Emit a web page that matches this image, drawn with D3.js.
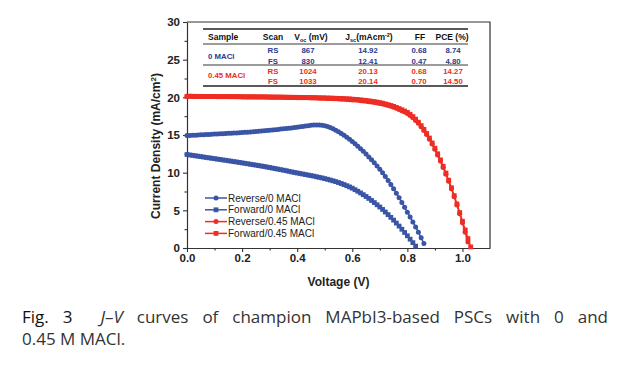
<!DOCTYPE html>
<html>
<head>
<meta charset="utf-8">
<script src="https://cdn.jsdelivr.net/npm/d3@7"></script>
<style>
  body { margin: 0; background: #fff; width: 633px; height: 377px; overflow: hidden; position: relative; }
  .cap { position: absolute; left: 22px; width: 586px; font-family: "Open Sans", Lato, sans-serif; font-size: 17px; color: #333; white-space: nowrap; line-height: 20px; }
  .cap1 { top: 307px; text-align: justify; text-align-last: justify; white-space: normal; }
  .cap2 { top: 329px; }
  .fig { color: #111; }
</style>
</head>
<body>
<div id="chart"></div>
<div class="cap cap1"><span class="fig">Fig. 3</span>&nbsp; <i>J</i>–<i>V</i> curves of champion MAPbI3-based PSCs with 0 and</div>
<div class="cap cap2">0.45 M MACl.</div>
<script>
// voltage sweep step (V) — each J array below is sampled every 10 mV from 0 V
const vStep = 0.01;

// Reverse scan, 0 MACl (mA/cm2)
const jRev0 = [
  14.92, 14.94, 14.96, 14.98, 15.00, 15.02, 15.04, 15.06, 15.08, 15.10,
  15.12, 15.14, 15.16, 15.18, 15.20, 15.22, 15.24, 15.26, 15.28, 15.30,
  15.32, 15.35, 15.38, 15.41, 15.44, 15.47, 15.50, 15.53, 15.56, 15.59,
  15.62, 15.66, 15.70, 15.74, 15.78, 15.82, 15.86, 15.90, 15.94, 15.98,
  16.03, 16.08, 16.13, 16.18, 16.23, 16.28, 16.32, 16.34, 16.33, 16.29,
  16.22, 16.12, 15.99, 15.83, 15.64, 15.43, 15.20, 14.96, 14.70, 14.43,
  14.15, 13.84, 13.52, 13.18, 12.83, 12.47, 12.09, 11.70, 11.30, 10.89,
  10.46, 9.98, 9.48, 8.96, 8.42, 7.86, 7.28, 6.68, 6.05, 5.40,
  4.75, 4.10, 3.45, 2.80, 2.10, 1.35, 0.60
];

// Forward scan, 0 MACl
const jFwd0 = [
  12.41, 12.35, 12.30, 12.24, 12.19, 12.13, 12.08, 12.02, 11.97, 11.91,
  11.86, 11.80, 11.75, 11.69, 11.64, 11.58, 11.53, 11.47, 11.42, 11.36,
  11.30, 11.24, 11.18, 11.12, 11.06, 11.00, 10.94, 10.88, 10.82, 10.75,
  10.68, 10.61, 10.54, 10.47, 10.40, 10.33, 10.26, 10.18, 10.10, 10.03,
  9.96, 9.89, 9.82, 9.75, 9.68, 9.61, 9.54, 9.46, 9.38, 9.30,
  9.21, 9.12, 9.02, 8.92, 8.81, 8.69, 8.56, 8.42, 8.27, 8.11,
  7.94, 7.74, 7.53, 7.31, 7.08, 6.84, 6.58, 6.31, 6.03, 5.74,
  5.44, 5.12, 4.78, 4.43, 4.07, 3.70, 3.31, 2.91, 2.49, 2.06,
  1.62, 1.17, 0.71, 0.25
];

// Reverse scan, 0.45 M MACl
const jRev45 = [
  20.13, 20.13, 20.12, 20.12, 20.12, 20.11, 20.11, 20.11, 20.10, 20.10,
  20.10, 20.09, 20.09, 20.09, 20.08, 20.08, 20.08, 20.07, 20.07, 20.07,
  20.06, 20.06, 20.06, 20.05, 20.05, 20.05, 20.04, 20.04, 20.03, 20.03,
  20.02, 20.02, 20.01, 20.01, 20.00, 20.00, 19.99, 19.98, 19.98, 19.97,
  19.96, 19.96, 19.95, 19.94, 19.93, 19.92, 19.91, 19.90, 19.89, 19.88,
  19.87, 19.85, 19.84, 19.82, 19.80, 19.78, 19.76, 19.74, 19.72, 19.69,
  19.66, 19.63, 19.60, 19.56, 19.52, 19.47, 19.42, 19.37, 19.31, 19.25,
  19.18, 19.10, 19.01, 18.91, 18.80, 18.68, 18.54, 18.39, 18.22, 18.04,
  17.84, 17.58, 17.28, 16.94, 16.55, 16.10, 15.60, 15.05, 14.45, 13.80,
  13.10, 12.35, 11.55, 10.70, 9.80, 8.85, 7.85, 6.80, 5.70, 4.55,
  3.35, 2.10, 0.80
];

// Forward scan, 0.45 M MACl
const jFwd45 = [
  20.14, 20.14, 20.14, 20.13, 20.13, 20.13, 20.12, 20.12, 20.12, 20.12,
  20.11, 20.11, 20.11, 20.10, 20.10, 20.10, 20.09, 20.09, 20.09, 20.08,
  20.08, 20.08, 20.07, 20.07, 20.07, 20.06, 20.06, 20.06, 20.05, 20.05,
  20.05, 20.04, 20.04, 20.03, 20.03, 20.02, 20.02, 20.01, 20.01, 20.00,
  20.00, 19.99, 19.99, 19.98, 19.97, 19.97, 19.96, 19.95, 19.94, 19.93,
  19.92, 19.91, 19.90, 19.89, 19.87, 19.86, 19.85, 19.83, 19.81, 19.79,
  19.76, 19.73, 19.70, 19.66, 19.62, 19.58, 19.53, 19.48, 19.43, 19.37,
  19.30, 19.22, 19.13, 19.03, 18.92, 18.80, 18.66, 18.51, 18.35, 18.18,
  18.00, 17.75, 17.45, 17.10, 16.70, 16.25, 15.75, 15.20, 14.60, 13.95,
  13.25, 12.50, 11.70, 10.85, 9.95, 9.00, 8.00, 6.95, 5.85, 4.70,
  3.55, 2.40, 1.25, 0.15
];

const seriesNames = ["Reverse/0 MACl", "Forward/0 MACl", "Reverse/0.45 MACl", "Forward/0.45 MACl"];
const seriesData = [jRev0, jFwd0, jRev45, jFwd45];
const seriesColors = ["#3a55a6", "#3a55a6", "#ee2d24", "#ee2d24"];
const seriesShapes = ["circle", "square", "circle", "square"];

const xTicks = [0, 0.2, 0.4, 0.6, 0.8, 1.0];
const yTicks = [0, 5, 10, 15, 20, 25, 30];

// inset table
const tableHeader = ["Sample", "Scan", "Voc (mV)", "Jsc(mAcm-2)", "FF", "PCE (%)"];
const tableSamples = ["0 MACl", "0.45 MACl"];
const tableScans = ["RS", "FS", "RS", "FS"];
const tableVoc = ["867", "830", "1024", "1033"];
const tableJsc = ["14.92", "12.41", "20.13", "20.14"];
const tableFF = ["0.68", "0.47", "0.68", "0.70"];
const tablePCE = ["8.74", "4.80", "14.27", "14.50"];
const tableColors = ["#2b3990", "#ee2d24"];

const W = 633, H = 377;
const margin = { top: 22, right: 143, bottom: 129, left: 187 },
    width = W - margin.left - margin.right,
    height = H - margin.top - margin.bottom;
const font = "'Liberation Sans', Arial, sans-serif";
const axisColor = "#333";

const svgRoot = d3.select("#chart").append("svg")
    .attr("width", W).attr("height", H)
    .style("position", "absolute").style("left", 0).style("top", 0);

const svg = svgRoot.append("g")
    .attr("transform", `translate(${margin.left},${margin.top})`);

const x = d3.scaleLinear().domain([0, 1.1]).range([0, width]);
const y = d3.scaleLinear().domain([0, 30]).range([height, 0]);

// frame (top + right)
svg.append("path")
    .attr("d", `M0,0H${width}V${height}`)
    .attr("fill", "none").attr("stroke", axisColor).attr("stroke-width", 1.2);

// minor ticks
svg.append("g")
    .attr("transform", `translate(0,${height})`)
    .call(d3.axisBottom(x).tickValues([0.1, 0.3, 0.5, 0.7, 0.9]).tickSize(2.5).tickFormat(""))
    .call(g => g.select(".domain").remove())
    .selectAll("line").attr("stroke", axisColor).attr("stroke-width", 1.1);

svg.append("g")
    .call(d3.axisLeft(y).tickValues([2.5, 7.5, 12.5, 17.5, 22.5, 27.5]).tickSize(2.5).tickFormat(""))
    .call(g => g.select(".domain").remove())
    .selectAll("line").attr("stroke", axisColor).attr("stroke-width", 1.1);

// X axis
const gx = svg.append("g")
    .attr("transform", `translate(0,${height})`)
    .call(d3.axisBottom(x).tickValues(xTicks).tickFormat(d3.format(".1f")).tickSize(4).tickSizeOuter(0).tickPadding(2));
gx.select(".domain").attr("stroke", axisColor).attr("stroke-width", 1.2);
gx.selectAll("line").attr("stroke", axisColor).attr("stroke-width", 1.1);
gx.selectAll("text")
    .style("font-family", font).style("font-weight", "bold").style("font-size", "11.5px").attr("fill", "#222");

svg.append("text")
    .attr("x", x(0.55)).attr("y", height + 38)
    .attr("text-anchor", "middle")
    .style("font-family", font).style("font-weight", "bold").style("font-size", "12px")
    .attr("fill", "#222")
    .text("Voltage (V)");

// Y axis
const gy = svg.append("g")
    .call(d3.axisLeft(y).tickValues(yTicks).tickSize(4).tickSizeOuter(0).tickPadding(3));
gy.select(".domain").attr("stroke", axisColor).attr("stroke-width", 1.2);
gy.selectAll("line").attr("stroke", axisColor).attr("stroke-width", 1.1);
gy.selectAll("text")
    .style("font-family", font).style("font-weight", "bold").style("font-size", "11.5px").attr("fill", "#222");

const ylab = svg.append("text")
    .attr("transform", "rotate(-90)")
    .attr("x", -124).attr("y", -27)
    .attr("text-anchor", "middle")
    .style("font-family", font).style("font-weight", "bold").style("font-size", "12px")
    .attr("fill", "#222");
ylab.append("tspan").text("Current Density (mA/cm");
ylab.append("tspan").attr("dy", -4).style("font-size", "8px").text("2");
ylab.append("tspan").attr("dy", 4).text(")");

// curves
const lineGen = d3.line().x(d => x(d.v)).y(d => y(d.j));

seriesData.forEach((arr, k) => {
    const pts = arr.map((j, i) => ({ v: i * vStep, j }));
    const g = svg.append("g");
    g.append("path")
        .datum(pts)
        .attr("fill", "none")
        .attr("stroke", seriesColors[k])
        .attr("stroke-width", 1.5)
        .attr("d", lineGen);
    if (seriesShapes[k] === "circle") {
        g.selectAll("circle").data(pts).join("circle")
            .attr("cx", d => x(d.v)).attr("cy", d => y(d.j))
            .attr("r", 2.5).attr("fill", seriesColors[k]);
    } else {
        g.selectAll("rect").data(pts).join("rect")
            .attr("x", d => x(d.v) - 2.4).attr("y", d => y(d.j) - 2.4)
            .attr("width", 4.8).attr("height", 4.8).attr("fill", seriesColors[k]);
    }
});

// legend
const legend = svg.append("g").attr("transform", "translate(18,176)");
seriesNames.forEach((name, k) => {
    const g = legend.append("g").attr("transform", `translate(0,${k * 11.8})`);
    g.append("line").attr("x1", 0).attr("x2", 22).attr("y1", 0).attr("y2", 0)
        .attr("stroke", seriesColors[k]).attr("stroke-width", 1.5);
    if (seriesShapes[k] === "circle") {
        g.append("circle").attr("cx", 11).attr("cy", 0).attr("r", 2.5).attr("fill", seriesColors[k]);
    } else {
        g.append("rect").attr("x", 8.6).attr("y", -2.4).attr("width", 4.8).attr("height", 4.8).attr("fill", seriesColors[k]);
    }
    g.append("text").attr("x", 23).attr("y", 3.6)
        .style("font-family", font).style("font-size", "10px").attr("fill", "#222")
        .text(name);
});

// inset table
const tbl = svg.append("g").attr("transform", `translate(${-margin.left},${-margin.top})`);
const tx0 = 203, tx1 = 468;
[[29, 1.6], [44, 0.9], [65, 0.9], [86, 1.6]].forEach(([yy, sw]) => {
    tbl.append("line").attr("x1", tx0).attr("x2", tx1).attr("y1", yy).attr("y2", yy)
        .attr("stroke", "#222").attr("stroke-width", sw);
});
const colX = [208, 273, 311, 369, 420, 452];
const headStyle = s => s.style("font-family", font).style("font-weight", "bold").style("font-size", "8.5px").attr("fill", "#111");
headStyle(tbl.append("text").attr("x", colX[0]).attr("y", 40).text(tableHeader[0]));
headStyle(tbl.append("text").attr("x", colX[1]).attr("y", 40).attr("text-anchor", "middle").text(tableHeader[1]));
const hv = headStyle(tbl.append("text").attr("x", colX[2]).attr("y", 40).attr("text-anchor", "middle"));
hv.append("tspan").text("V");
hv.append("tspan").attr("dy", 2).style("font-size", "5.5px").text("oc");
hv.append("tspan").attr("dy", -2).text(" (mV)");
const hj = headStyle(tbl.append("text").attr("x", colX[3]).attr("y", 40).attr("text-anchor", "middle"));
hj.append("tspan").text("J");
hj.append("tspan").attr("dy", 2).style("font-size", "5.5px").text("sc");
hj.append("tspan").attr("dy", -2).text("(mAcm");
hj.append("tspan").attr("dy", -3).style("font-size", "5.5px").text("-2");
hj.append("tspan").attr("dy", 3).text(")");
headStyle(tbl.append("text").attr("x", colX[4]).attr("y", 40).attr("text-anchor", "middle").text(tableHeader[4]));
headStyle(tbl.append("text").attr("x", colX[5]).attr("y", 40).attr("text-anchor", "middle").text(tableHeader[5]));

const rowY = [53, 63.5, 73.5, 83.5];
const cellStyle = (s, c) => s.style("font-family", font).style("font-weight", "bold").style("font-size", "7.8px").attr("fill", c);
tableSamples.forEach((s, i) => {
    cellStyle(tbl.append("text").attr("x", colX[0]).attr("y", i === 0 ? 59 : 78).text(s), tableColors[i]);
});
tableScans.forEach((s, r) => {
    const c = tableColors[r < 2 ? 0 : 1];
    const cells = [tableScans[r], tableVoc[r], tableJsc[r], tableFF[r], tablePCE[r]];
    const cx = [273, 308, 368, 419, 453];
    cells.forEach((t, k) => {
        cellStyle(tbl.append("text").attr("x", cx[k]).attr("y", rowY[r]).attr("text-anchor", "middle").text(t), c);
    });
});
</script>
</body>
</html>
